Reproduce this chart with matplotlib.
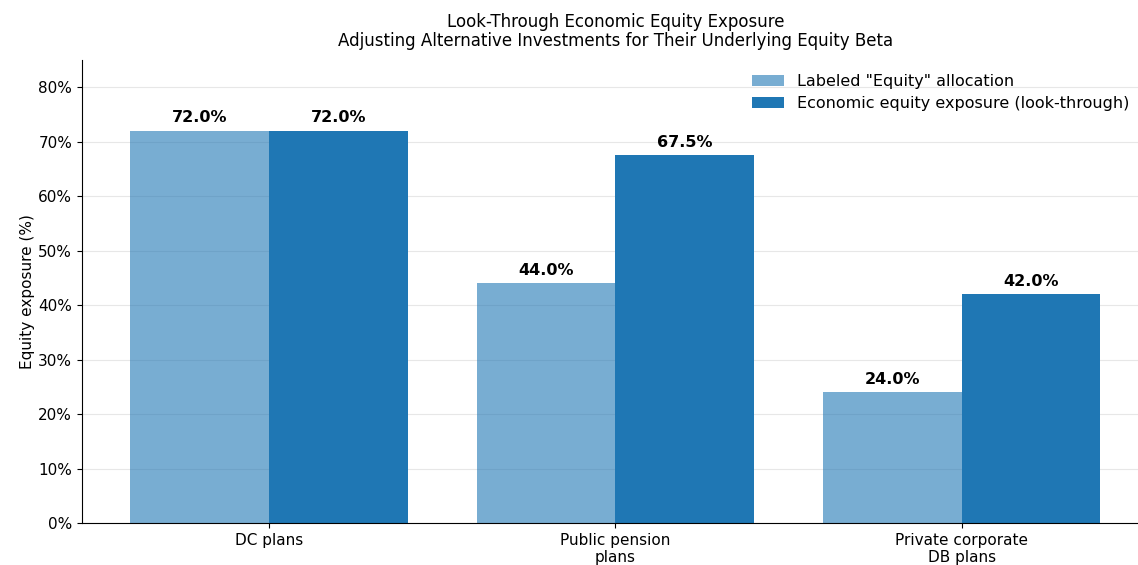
import matplotlib
matplotlib.use("Agg")
import matplotlib.pyplot as plt
import numpy as np
from matplotlib.ticker import PercentFormatter

categories = ["DC plans", "Public pension\nplans", "Private corporate\nDB plans"]
labeled_equity = [72.0, 44.0, 24.0]
economic_equity = [72.0, 67.5, 42.0]

x = np.arange(len(categories))
width = 0.4

fig = plt.figure(figsize=(11.38, 5.65), dpi=100)
ax = fig.add_axes([0.072, 0.0743, 0.9376, 0.8195])

b1 = ax.bar(x - width / 2, labeled_equity, width, color="#1f77b4", alpha=0.6,
            label='Labeled "Equity" allocation')
b2 = ax.bar(x + width / 2, economic_equity, width, color="#1f77b4",
            label="Economic equity exposure (look-through)")

for bars in (b1, b2):
    for bar in bars:
        h = bar.get_height()
        ax.annotate(f"{h:.1f}%", (bar.get_x() + bar.get_width() / 2, h),
                    xytext=(0, 4), textcoords="offset points",
                    ha="center", va="bottom", fontsize=11.5, fontweight="bold")

ax.set_ylim(0, 85)
ax.set_xlim(-0.54, 2.54)
ax.yaxis.set_major_formatter(PercentFormatter(decimals=0))
ax.set_xticks(x)
ax.set_xticklabels(categories, fontsize=11)
ax.tick_params(axis="y", labelsize=11)
ax.set_ylabel("Equity exposure (%)", fontsize=11, labelpad=2)
ax.set_title("Look-Through Economic Equity Exposure\nAdjusting Alternative Investments for Their Underlying Equity Beta",
             fontsize=12, pad=10, linespacing=1.05)
ax.grid(axis="y", alpha=0.3)
ax.set_axisbelow(True)
ax.spines["top"].set_visible(False)
ax.spines["right"].set_visible(False)
ax.legend(loc="upper right", frameon=False, fontsize=11.5, bbox_to_anchor=(0.995, 1.0),
          labelspacing=0.4)

plt.savefig("out.png", dpi=100)
